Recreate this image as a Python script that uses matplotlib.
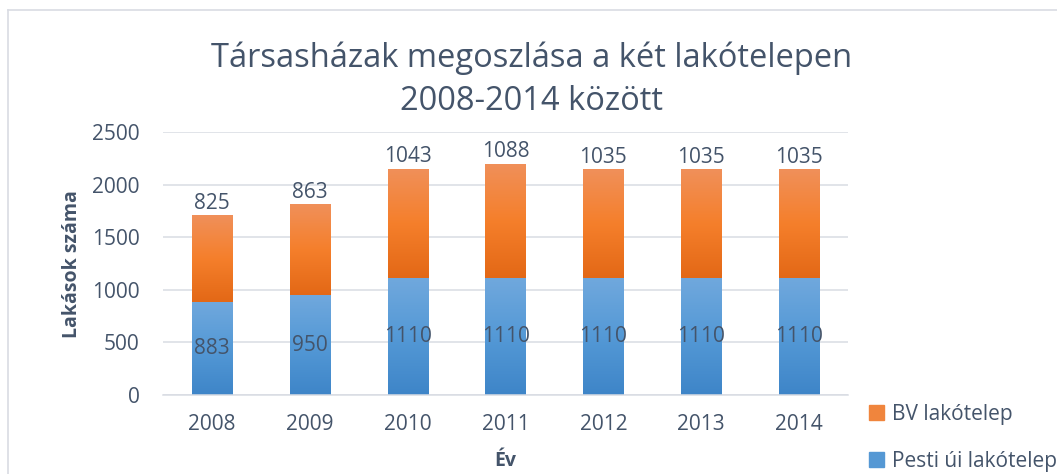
import numpy as np
import matplotlib
matplotlib.use('Agg')
import matplotlib.pyplot as plt
from matplotlib.colors import LinearSegmentedColormap
from matplotlib.lines import Line2D
from matplotlib.patches import Patch

# %% Adatok
evek = ['2008', '2009', '2010', '2011', '2012', '2013', '2014']
pesti = [883, 950, 1110, 1110, 1110, 1110, 1110]
bv = [825, 863, 1043, 1088, 1035, 1035, 1035]

plt.rcParams['font.family'] = ['Open Sans', 'DejaVu Sans']
szoveg = '#44546A'

kek_cmap = LinearSegmentedColormap.from_list('kek', ['#3E85C8', '#5499D6', '#70A8DD'])
narancs_cmap = LinearSegmentedColormap.from_list('narancs', ['#E36816', '#F57F2B', '#F0905A'])

# %% Abra
fig = plt.figure(figsize=(10.57, 4.74), dpi=100)
ax = fig.add_axes([163 / 1057, 1 - 395 / 474, 685 / 1057, 263 / 474])

x = np.arange(len(evek))
szel = 0.41
b1 = ax.bar(x, pesti, width=szel, color='#5B9BD5', zorder=2, label='Pesti úi lakótelep')
b2 = ax.bar(x, bv, width=szel, bottom=pesti, color='#F08A45', zorder=2, label='BV lakótelep')

# gradiens kitoltes
grad = np.linspace(0, 1, 256).reshape(-1, 1)
for bars, cmap in [(b1, kek_cmap), (b2, narancs_cmap)]:
    for p in bars:
        x0, y0 = p.get_x(), p.get_y()
        im = ax.imshow(grad, cmap=cmap, origin='lower', aspect='auto',
                       extent=(x0, x0 + p.get_width(), y0, y0 + p.get_height()), zorder=2.5)
        im.set_clip_path(p)

# cimkek
for i in range(len(evek)):
    ax.text(x[i], pesti[i] / 2, str(pesti[i]), ha='center', va='center',
            fontsize=15, color=szoveg, zorder=4)
    ax.annotate(str(bv[i]), (x[i], pesti[i] + bv[i]), xytext=(0, 1), textcoords='offset points',
                ha='center', va='bottom', fontsize=15, color=szoveg, zorder=4)

ax.set_xlim(-0.5, len(evek) - 0.5)
ax.set_ylim(0, 2500)
ax.set_yticks(range(0, 2501, 500))
ax.set_xticks(x)
ax.set_xticklabels(evek)
ax.tick_params(length=0, labelsize=15, labelcolor=szoveg)
ax.tick_params(axis='y', pad=17)
ax.tick_params(axis='x', pad=14)
ax.grid(axis='y', color='#D9DCE3', linewidth=1.1, zorder=0)
ax.set_axisbelow(True)
for s in ['top', 'right', 'left']:
    ax.spines[s].set_visible(False)
ax.spines['bottom'].set_color('#D9DCE3')
ax.spines['bottom'].set_linewidth(1.1)

fig.text(0.5 * (213 + 850) / 1057, 1 - 80 / 474, 'Társasházak megoszlása a két lakótelepen\n2008-2014 között',
         ha='center', va='center', fontsize=23.5, color=szoveg, linespacing=1.4)
fig.text(72 / 1057, 1 - 264 / 474, 'Lakások száma', rotation=90, ha='center', va='center',
         fontsize=14, fontweight='bold', color=szoveg)
fig.text(505 / 1057, 1 - 461 / 474, 'Év', ha='center', va='center',
         fontsize=14, fontweight='bold', color=szoveg)

kezek = [Patch(color='#F0853D'), Patch(color='#5598D4')]
fig.legend(kezek, ['BV lakótelep', 'Pesti úi lakótelep'], loc='upper left',
           bbox_to_anchor=(869 / 1057, 1 - 404 / 474), frameon=False, fontsize=15,
           handlelength=0.7, handleheight=0.7, handletextpad=0.4, labelspacing=1.25,
           labelcolor=szoveg, borderpad=0, borderaxespad=0)

# keret
fig.add_artist(Line2D([7.5 / 1057, 7.5 / 1057], [0, 1 - 10 / 474], color='#D9DCE3', lw=1.2))
fig.add_artist(Line2D([7.5 / 1057, 1], [1 - 10 / 474, 1 - 10 / 474], color='#D9DCE3', lw=1.2))

fig.savefig('out.png', dpi=100)
